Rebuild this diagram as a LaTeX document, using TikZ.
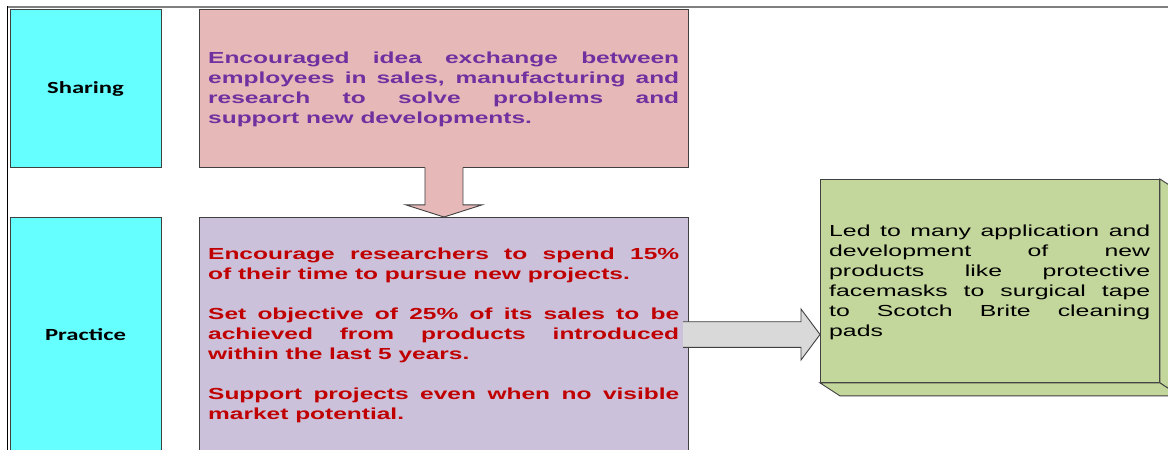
\documentclass[tikz,border=0pt]{standalone}
\usepackage{fontspec}
\usetikzlibrary{calc}

% Typefaces (widened to the slide's proportions)
\newfontfamily\labelfont{Carlito}[FakeStretch=1.45]
\newfontfamily\widefont{Liberation Sans}[FakeStretch=1.53]
\newfontfamily\notefont{Liberation Sans}[FakeStretch=1.55]

\definecolor{sharecyan}{HTML}{66FFFF}
\definecolor{ideapink}{HTML}{E6B9B8}
\definecolor{practicelilac}{HTML}{CCC1DA}
\definecolor{resultgreen}{HTML}{C3D69B}
\definecolor{arrowgray}{HTML}{D9D9D9}
\definecolor{ideapurple}{HTML}{7030A0}
\definecolor{practicered}{HTML}{C00000}
\definecolor{edgegray}{HTML}{404040}

\tikzset{
  edge/.style={draw=edgegray, line width=0.9pt, line join=miter},
  panel/.style={edge, inner sep=0pt, anchor=north west},
  rowlabel/.style={font={\labelfont\bfseries\fontsize{17pt}{20pt}\selectfont}, text=black, anchor=base, inner sep=0pt},
  bodytext/.style={anchor=base west, inner sep=0pt, align=justify},
  ideatext/.style={bodytext, text=ideapurple, font={\widefont\bfseries\fontsize{16pt}{20pt}\selectfont}},
  practicetext/.style={bodytext, text=practicered, font={\widefont\bfseries\fontsize{16pt}{20pt}\selectfont}},
  resulttext/.style={bodytext, text=black, font={\notefont\fontsize{16pt}{20pt}\selectfont}},
}

\begin{document}
\begin{tikzpicture}[x=1pt, y=-1pt]
  \useasboundingbox (0,0) rectangle (1168,450);
  \clip (0,0) rectangle (1168,450);
  \fill[white] (0,0) rectangle (1168,450);

  % outer frame
  \draw[black!50, line width=1.8pt] (7,6.8) -- (1168,6.8);
  \draw[black, line width=1pt] (7.3,6) -- (7.3,450);

  % row headers
  \node[panel, fill=sharecyan, minimum width=151pt, minimum height=158pt] (share) at (10,8.5) {};
  \node[panel, fill=sharecyan, minimum width=151pt, minimum height=260pt] (practice) at (10,217) {};
  \node[rowlabel] (sharelbl) at (85.5,93.3) {Sharing};
  \node[rowlabel] (practicelbl) at (85.5,340) {Practice};

  % content panels
  \node[panel, fill=ideapink, minimum width=489pt, minimum height=158pt] (idea) at (199,8.5) {};
  \node[panel, fill=practicelilac, minimum width=489pt, minimum height=260pt] (lilac) at (199,217) {};

  % block arrow from the sharing panel down to the practice panel
  \coordinate (dtail) at (idea.south);
  \coordinate (dtip) at (lilac.north);
  \fill[ideapink] ($(dtail)+(-19,-1.5)$) -- ($(dtail)+(-19,37.5)$) -- ($(dtail)+(-38,37.5)$)
     -- (dtip) -- ($(dtail)+(38,37.5)$) -- ($(dtail)+(19,37.5)$) -- ($(dtail)+(19,-1.5)$) -- cycle;
  \draw[edge] ($(dtail)+(-19,0)$) -- ($(dtail)+(-19,37.5)$) -- ($(dtail)+(-38,37.5)$)
     -- (dtip) -- ($(dtail)+(38,37.5)$) -- ($(dtail)+(19,37.5)$) -- ($(dtail)+(19,0)$);

  % result box drawn as a cube with depth to the lower right
  \node[panel, fill=resultgreen, minimum width=339pt, minimum height=203pt] (result) at (820,179) {};
  \filldraw[edge, fill=resultgreen] (result.north east) -- ++(20,13) -- ($(result.south east)+(20,13)$)
     -- (result.south east) -- cycle;
  \filldraw[edge, fill=resultgreen] (result.south west) -- (result.south east) -- ++(20,13)
     -- ($(result.south west)+(20,13)$) -- cycle;

  % block arrow from the practice panel to the result box
  \coordinate (rtail) at (683,334.5);
  \coordinate (rtip) at (result.west |- rtail);
  \fill[arrowgray] ($(rtail)+(0,-12.8)$) -- ($(rtip)+(-19,-12.8)$) -- ($(rtip)+(-19,-25.5)$) -- (rtip)
     -- ($(rtip)+(-19,25.5)$) -- ($(rtip)+(-19,12.8)$) -- ($(rtail)+(0,12.8)$) -- cycle;
  \draw[edge] ($(rtail)+(0,-12.8)$) -- ($(rtip)+(-19,-12.8)$) -- ($(rtip)+(-19,-25.5)$) -- (rtip)
     -- ($(rtip)+(-19,25.5)$) -- ($(rtip)+(-19,12.8)$) -- ($(rtail)+(0,12.8)$);

  % texts
  \node[ideatext, text width=471pt] (ideatxt) at (208,63) {\tolerance=10000
    Encouraged idea exchange between\linebreak
    employees in sales, manufacturing and\linebreak
    research to solve problems and\linebreak
    support new developments.};

  \node[practicetext, text width=471pt] (practicetxt) at (208,259) {\tolerance=10000
    Encourage researchers to spend 15\%\linebreak
    of their time to pursue new projects.\par\vspace{20pt}
    Set objective of 25\% of its sales to be\linebreak
    achieved from products introduced\linebreak
    within the last 5 years.\par\vspace{20pt}
    Support projects even when no visible\linebreak
    market potential.};

  \node[resulttext, text width=321pt] (resulttxt) at (829,236) {\tolerance=10000
    Led to many application and\linebreak
    development of new\linebreak
    products like protective\linebreak
    facemasks to surgical tape\linebreak
    to Scotch Brite cleaning\linebreak
    pads};
\end{tikzpicture}
\end{document}
